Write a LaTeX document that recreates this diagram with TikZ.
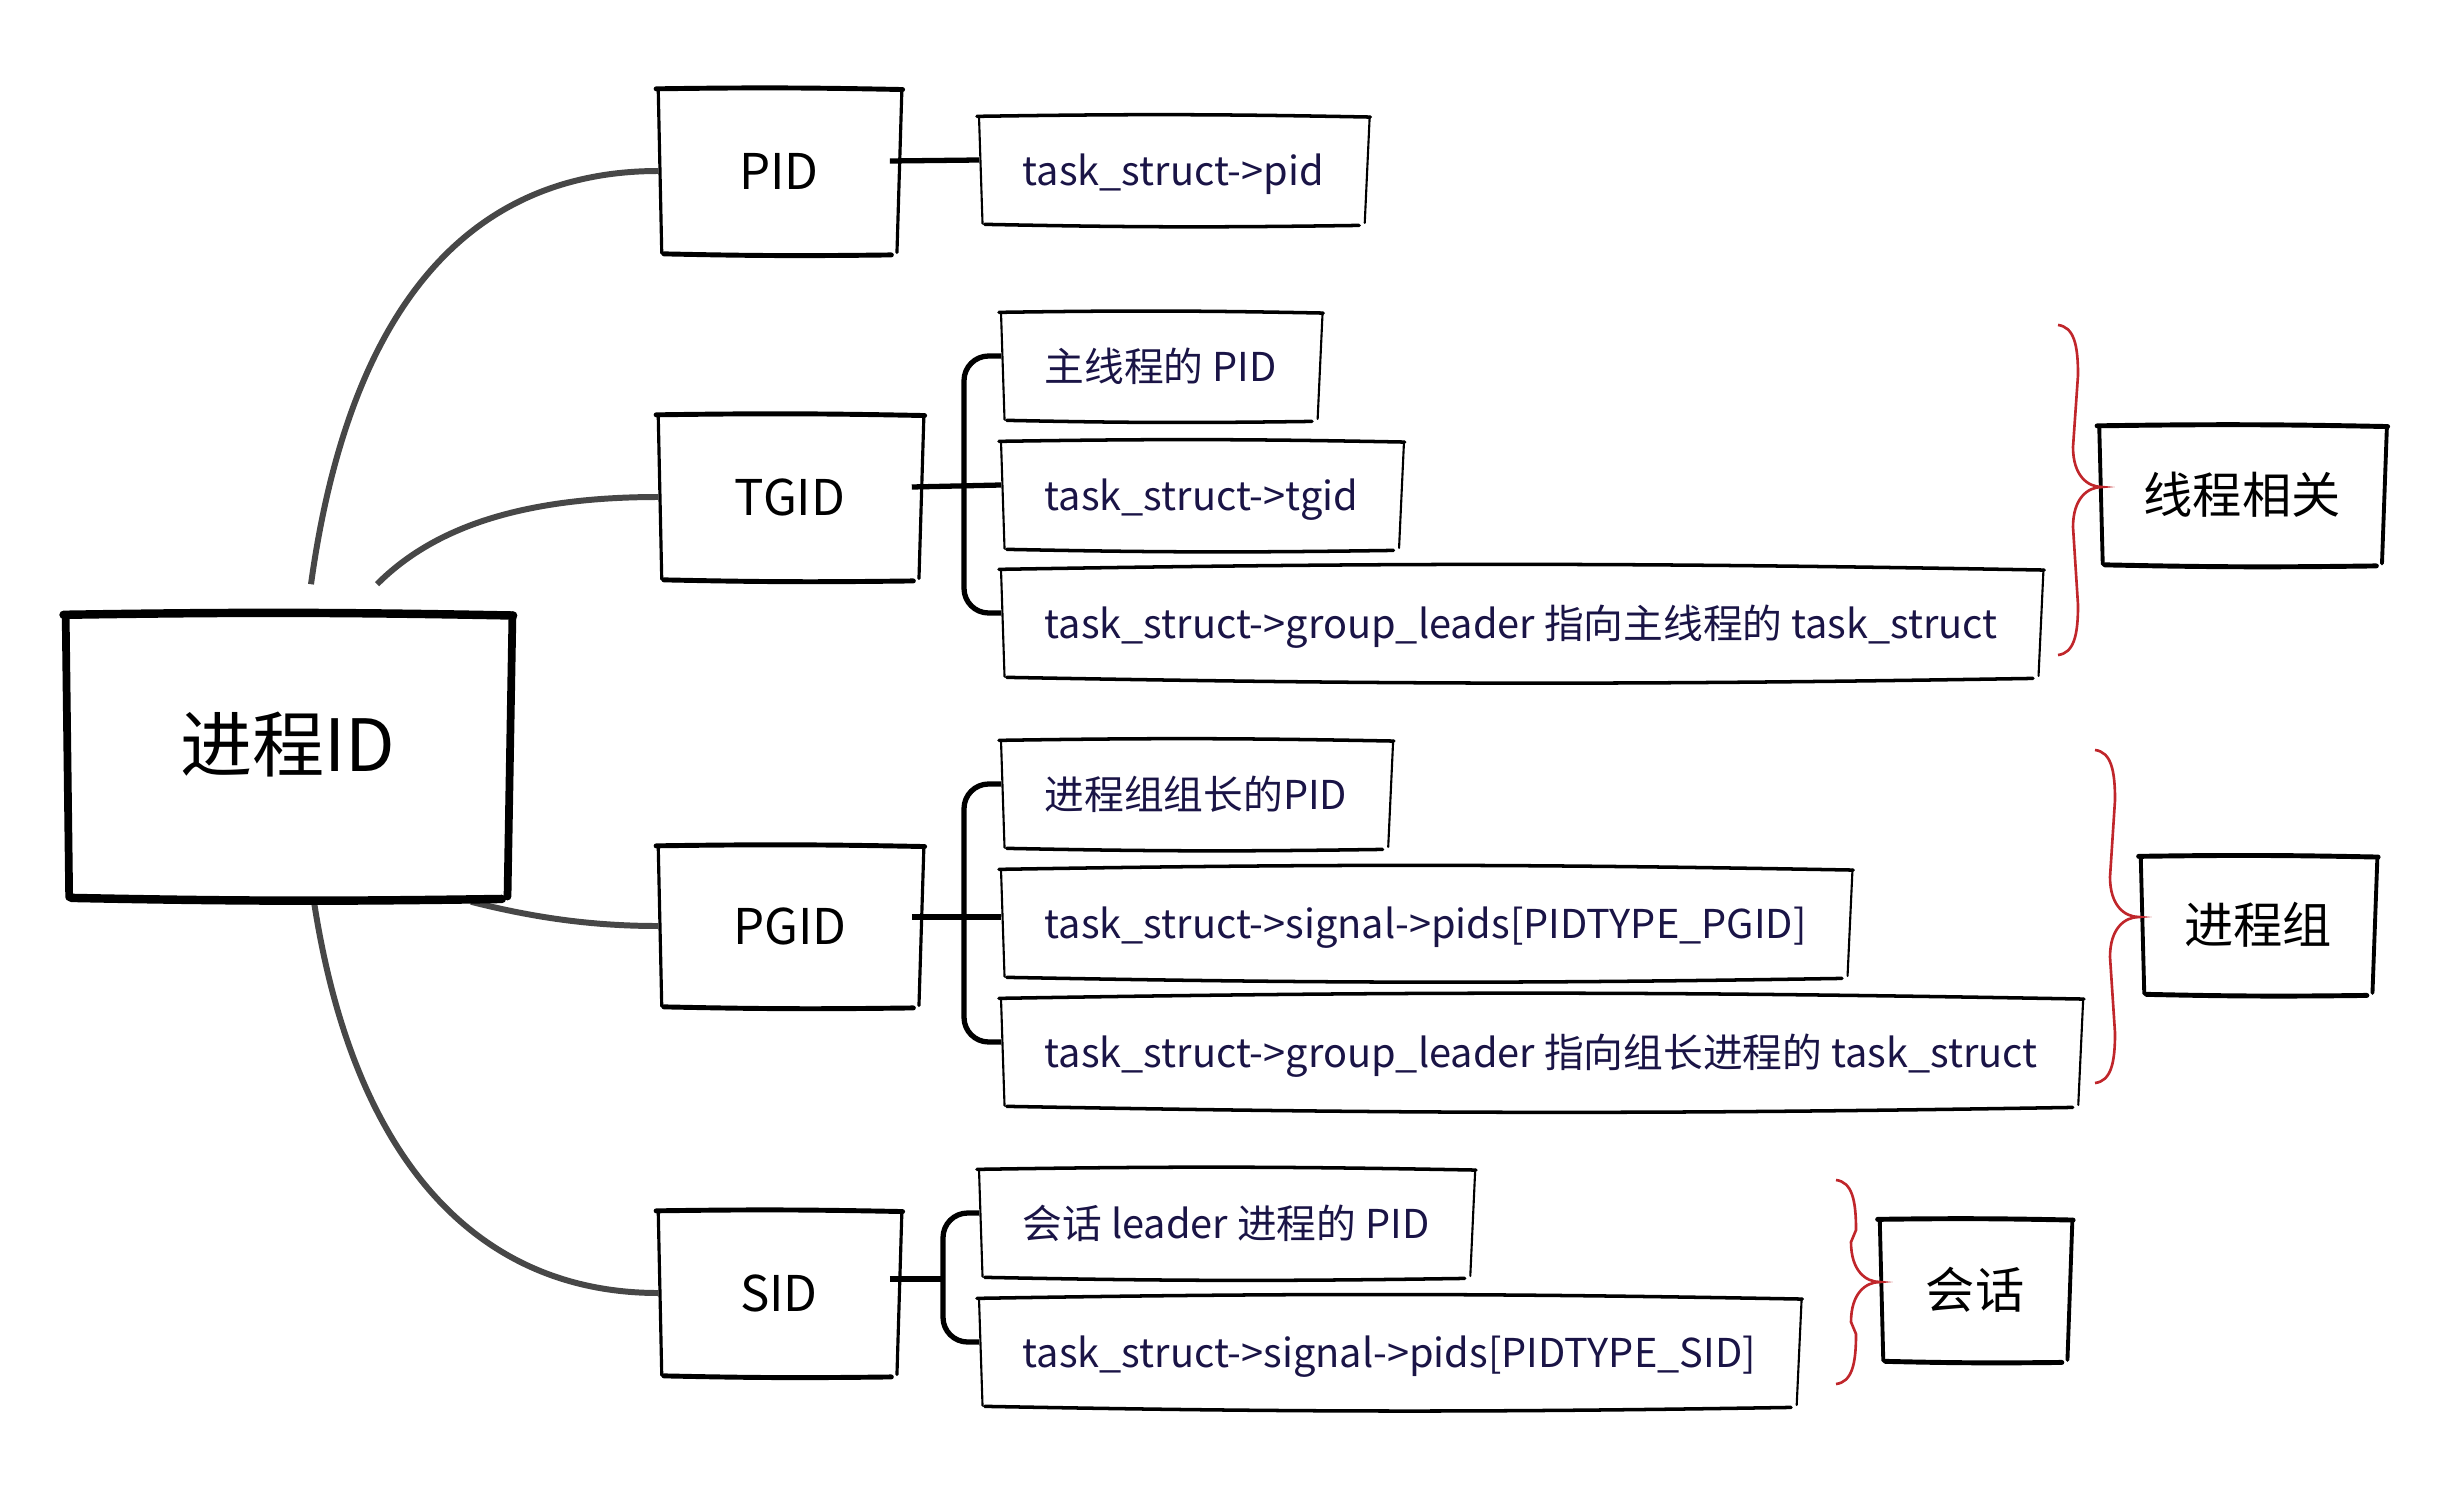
\documentclass[tikz,border=0pt]{standalone}
\usepackage{fontspec}
\setmainfont{Noto Sans CJK SC}
\usetikzlibrary{calc}
\definecolor{navy}{HTML}{1A1446}
\definecolor{curvegray}{HTML}{474747}
\definecolor{bracered}{HTML}{C0262B}

\newcommand\skbox[3]{%
  \draw[line width=#2,line cap=round] ([shift={(-0.6pt,0.4pt)}]#1.north west) to[bend left=1] ([shift={(0.8pt,0.2pt)}]#1.north east);
  \draw[line width=#3,line cap=round] ([shift={(0pt,0.3pt)}]#1.north west) -- ([shift={(1pt,-0.4pt)}]#1.south west);
  \draw[line width=#3,line cap=round] ([shift={(0.6pt,0.3pt)}]#1.north east) -- ([shift={(-0.8pt,-0.2pt)}]#1.south east);
  \draw[line width=#2,line cap=round] ([shift={(1.6pt,-0.6pt)}]#1.south west) to[bend right=1] ([shift={(-2.4pt,-0.9pt)}]#1.south east);
}
\newcommand\redbrace[4]{% tip x, tip y, top y, bottom y
  \draw[bracered,line width=0.75pt] ({#1-44},#3) .. controls ({#1-28},{#3+2}) and ({#1-24},{#3+20}) .. ({#1-24},{#3+50})
    -- ({#1-29},{#2-40}) .. controls ({#1-29},{#2-12}) and ({#1-15},#2) .. (#1,#2)
    .. controls ({#1-15},#2) and ({#1-29},{#2+12}) .. ({#1-29},{#2+40})
    -- ({#1-24},{#4-50}) .. controls ({#1-24},{#4-20}) and ({#1-28},{#4-2}) .. ({#1-44},#4);
}

\begin{document}
\begin{tikzpicture}[x=0.01cm,y=-0.01cm,
  mainbox/.style={inner sep=0pt,minimum width=4.43cm,minimum height=2.78cm,text height=0.95em,text depth=0.09em,font=\fontsize{20.5pt}{24pt}\selectfont},
  catbox/.style={inner sep=0pt,minimum height=1.6cm,font=\fontsize{14pt}{17pt}\selectfont},
  leafbox/.style={anchor=west,inner xsep=0.43cm,inner ysep=0pt,minimum height=1.03cm,text height=0.95em,text depth=0.08em,text=navy,font=\fontsize{11.3pt}{14pt}\selectfont},
  groupbox/.style={inner sep=0pt,minimum height=1.34cm,font=\fontsize{14pt}{17pt}\selectfont},
  curve/.style={curvegray,line width=1.7pt},
  conn/.style={black,line width=1.5pt}
]
\path[use as bounding box] (0,0) rectangle (2461,1488);

% nodes
\node[mainbox] (main) at (288,756) {进程ID};
\node[catbox,minimum width=2.4cm] (pid) at (779,171) {PID};
\node[catbox,minimum width=2.62cm] (tgid) at (790,497) {TGID};
\node[catbox,minimum width=2.62cm,minimum height=1.56cm] (pgid) at (790,926) {PGID};
\node[catbox,minimum width=2.4cm] (sid) at (779,1293) {SID};

\node[leafbox] (p1) at (979,170) {task\_struct->pid};
\node[leafbox] (t1) at (1001,366) {主线程的 PID};
\node[leafbox] (t2) at (1001,495) {task\_struct->tgid};
\node[leafbox] (t3) at (1001,623) {task\_struct->group\_leader 指向主线程的 task\_struct};
\node[leafbox] (g1) at (1001,794) {进程组组长的PID};
\node[leafbox] (g2) at (1001,923) {task\_struct->signal->pids[PIDTYPE\_PGID]};
\node[leafbox] (g3) at (1001,1052) {task\_struct->group\_leader 指向组长进程的 task\_struct};
\node[leafbox] (s1) at (979,1223) {会话 leader 进程的 PID};
\node[leafbox] (s2) at (979,1352) {task\_struct->signal->pids[PIDTYPE\_SID]};

\node[groupbox,minimum width=2.84cm] (gt) at (2242,495) {线程相关};
\node[groupbox,minimum width=2.33cm,minimum height=1.33cm] (gp) at (2258,925) {进程组};
\node[groupbox,minimum width=1.89cm,minimum height=1.37cm] (gs) at (1975,1290) {会话};

% curves from main
\draw[curve] ($(main.north)+(23,-32)$) .. controls +(40,-290) and +(-180,0) .. (pid.west);
\draw[curve] ($(main.north)+(89,-32)$) .. controls +(50,-50) and +(-150,0) .. (tgid.west);
\draw[curve] ($(main.south)+(183,6)$) .. controls +(60,15) and +(-70,0) .. (pgid.west);
\draw[curve] ($(main.south)+(26,6)$) .. controls +(40,260) and +(-180,0) .. (sid.west);

% boxes
\skbox{main}{2.4pt}{2.2pt}
\foreach \n in {pid,tgid,pgid,sid}{\skbox{\n}{1.4pt}{0.9pt}}
\foreach \n in {p1,t1,t2,t3,g1,g2,g3,s1,s2}{\skbox{\n}{1.0pt}{0.6pt}}
\foreach \n in {gt,gp,gs}{\skbox{\n}{1.4pt}{1.1pt}}

% connectors
\draw[conn] ($(pid.east)+(-10,-10)$) -- ($(p1.west)+(0,-10)$);

\draw[conn] ($(tgid.east)+(-10,-10)$) -- ($(t2.west)+(0,-10)$);
\draw[conn,rounded corners=7pt] ($(t1.west)+(0,-10)$) -- ++(-37,0) |- ($(t3.west)+(0,-10)$);

\draw[conn] ($(pgid.east)+(-10,-9)$) -- ($(g2.west)+(0,-6)$);
\draw[conn,rounded corners=7pt] ($(g1.west)+(0,-10)$) -- ++(-37,0) |- ($(g3.west)+(0,-10)$);

\coordinate (sb) at ($(s1.west)+(-36,0)$);
\draw[conn] ($(sid.east)+(-10,-14)$) coordinate (sx) -- (sx -| sb);
\draw[conn,rounded corners=7pt] ($(s1.west)+(0,-10)$) -- ++(-36,0) |- ($(s2.west)+(0,-10)$);

% red braces
\redbrace{2102}{487}{325}{655}
\redbrace{2139}{917}{750}{1083}
\redbrace{1880}{1282}{1180}{1384}
\end{tikzpicture}
\end{document}
